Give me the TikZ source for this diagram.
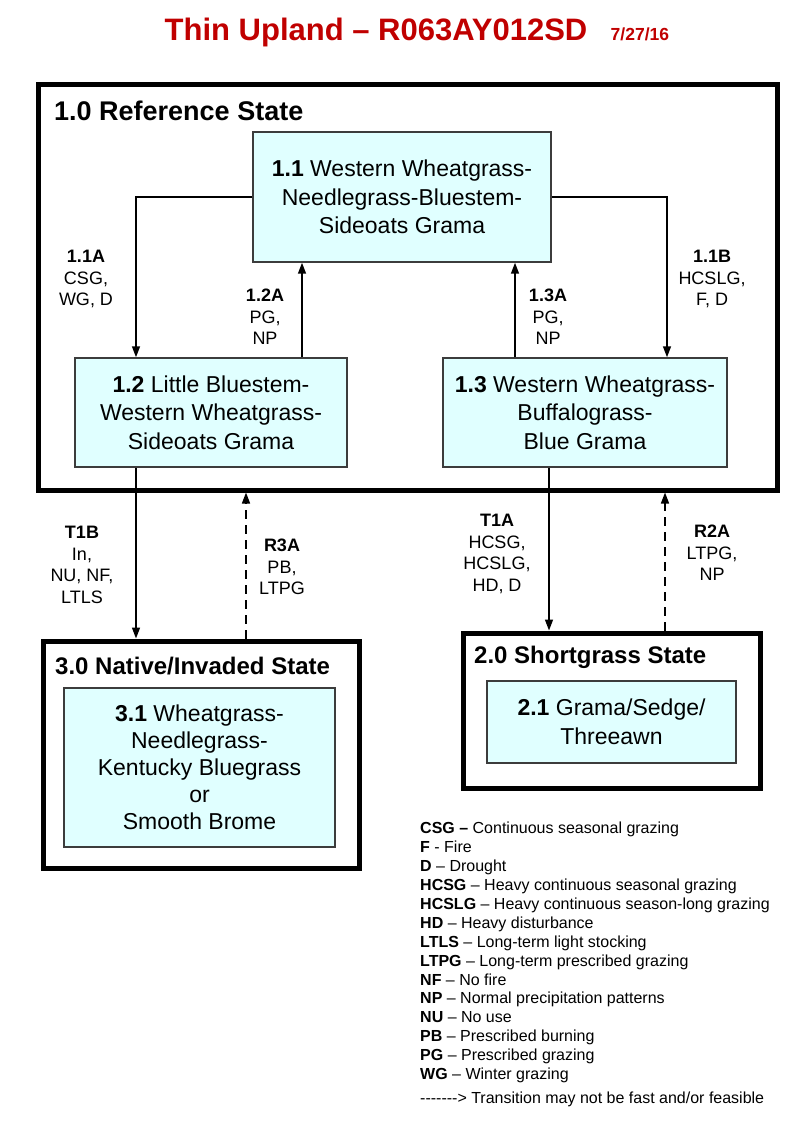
\documentclass[tikz,border=0pt]{standalone}
\usepackage{fontspec}
\setmainfont{Liberation Sans}
\usetikzlibrary{arrows.meta,positioning}
\definecolor{titlered}{RGB}{192,0,0}
\definecolor{phasecyan}{RGB}{224,255,255}
\definecolor{edgegray}{RGB}{60,60,60}

\begin{document}
\begin{tikzpicture}[x=1pt,y=-1pt,
  statebox/.style={draw=black,line width=5pt,inner sep=0pt},
  phasebox/.style={draw=edgegray,fill=phasecyan,line width=1.5pt,align=center,inner sep=0pt,font=\fontsize{23}{28.5}\selectfont},
  statetitle/.style={anchor=west,inner sep=0pt,font=\fontsize{24}{28}\selectfont\bfseries},
  lbl/.style={align=center,inner sep=0pt,font=\fontsize{18}{21.5}\selectfont},
  trans/.style={-{Triangle[length=11pt,width=8pt]},line width=1.5pt},
  restore/.style={trans,dash pattern=on 9pt off 6pt}]

\useasboundingbox (0,0) rectangle (800,1139);

% Title
\node[text=titlered,font=\fontsize{31}{36}\selectfont\bfseries,inner sep=0pt,anchor=base] (title) at (376,41) {Thin Upland – R063AY012SD};
\node[text=titlered,font=\fontsize{17.5}{20}\selectfont\bfseries,inner sep=0pt,anchor=base west] (date) at ([xshift=23pt]title.base east) {7/27/16};

% Reference state
\node[statebox,minimum width=739pt,minimum height=405pt] (ref) at (407.5,287.5) {};
\node[statetitle,font=\fontsize{27}{30}\selectfont\bfseries] (reft) at (54,111) {1.0 Reference State};

% Community phases - reference state
\node[phasebox,minimum width=298pt,minimum height=130pt] (s11) at (402,197) {\textbf{1.1} Western Wheatgrass-\\Needlegrass-Bluestem-\\Sideoats Grama};
\node[phasebox,minimum width=272pt,minimum height=109pt] (s12) at (211,412.5) {\textbf{1.2} Little Bluestem-\\Western Wheatgrass-\\Sideoats Grama};
\node[phasebox,minimum width=284pt,minimum height=109pt] (s13) at (585,412.5) {\textbf{1.3} Western Wheatgrass-\\Buffalograss-\\Blue Grama};

% Shortgrass state
\node[statebox,minimum width=297pt,minimum height=155pt] (sg) at (611.5,710.5) {};
\node[statetitle] (sgt) at (474,657) {2.0 Shortgrass State};
\node[phasebox,minimum width=249pt,minimum height=82pt] (s21) at (611.5,722) {\textbf{2.1} Grama/Sedge/\\Threeawn};

% Native/invaded state
\node[statebox,minimum width=316pt,minimum height=227pt] (ni) at (201,754.5) {};
\node[statetitle] (nit) at (55,666) {3.0 Native/Invaded State};
\node[phasebox,minimum width=271pt,minimum height=159pt,font=\fontsize{23}{27}\selectfont] (s31) at (199.5,767.5) {\textbf{3.1} Wheatgrass-\\Needlegrass-\\Kentucky Bluegrass\\or\\Smooth Brome};

% Arrow columns
\coordinate (c11a) at (136,0);
\coordinate (c12a) at (302,0);
\coordinate (c13a) at (515,0);
\coordinate (c11b) at (667,0);
\coordinate (ct1b) at (136,0);
\coordinate (cr3a) at (246,0);
\coordinate (ct1a) at (549,0);
\coordinate (cr2a) at (665,0);

% Pathways within reference state
\draw[trans] (s11.west) -| (s12.north -| c11a);
\node[lbl] (l11a) at (86,279) {\textbf{1.1A}\\CSG,\\WG, D};
\draw[trans] (s12.north -| c12a) -- (s11.south -| c12a);
\node[lbl] (l12a) at (265,317) {\textbf{1.2A}\\PG,\\NP};
\draw[trans] (s13.north -| c13a) -- (s11.south -| c13a);
\node[lbl] (l13a) at (548,317) {\textbf{1.3A}\\PG,\\NP};
\draw[trans] (s11.east) -| (s13.north -| c11b);
\node[lbl] (l11b) at (712,279) {\textbf{1.1B}\\HCSLG,\\F, D};

% Transitions and restorations
\draw[trans] (s12.south -| ct1b) -- (ni.north -| ct1b);
\node[lbl] (lt1b) at (82,565) {\textbf{T1B}\\In,\\NU, NF,\\LTLS};
\draw[restore] (ni.north -| cr3a) -- (ref.south -| cr3a);
\node[lbl] (lr3a) at (282,567) {\textbf{R3A}\\PB,\\LTPG};
\draw[trans] (s13.south -| ct1a) -- (sg.north -| ct1a);
\node[lbl] (lt1a) at (497,554) {\textbf{T1A}\\HCSG,\\HCSLG,\\HD, D};
\draw[restore] (sg.north -| cr2a) -- (ref.south -| cr2a);
\node[lbl] (lr2a) at (712,553) {\textbf{R2A}\\LTPG,\\NP};

% Legend
\node[anchor=north west,align=left,inner sep=0pt,font=\fontsize{16}{18.9}\selectfont] (legend) at (420,822) {%
\textbf{CSG –} Continuous seasonal grazing\\
\textbf{F} - Fire\\
\textbf{D} – Drought\\
\textbf{HCSG} – Heavy continuous seasonal grazing\\
\textbf{HCSLG} – Heavy continuous season-long grazing\\
\textbf{HD} – Heavy disturbance\\
\textbf{LTLS} – Long-term light stocking\\
\textbf{LTPG} – Long-term prescribed grazing\\
\textbf{NF} – No fire\\
\textbf{NP} – Normal precipitation patterns\\
\textbf{NU} – No use\\
\textbf{PB} – Prescribed burning\\
\textbf{PG} – Prescribed grazing\\
\textbf{WG} – Winter grazing\\[5pt]
-{}-{}-{}-{}-{}-{}-{}> Transition may not be fast and/or feasible};
\end{tikzpicture}
\end{document}
